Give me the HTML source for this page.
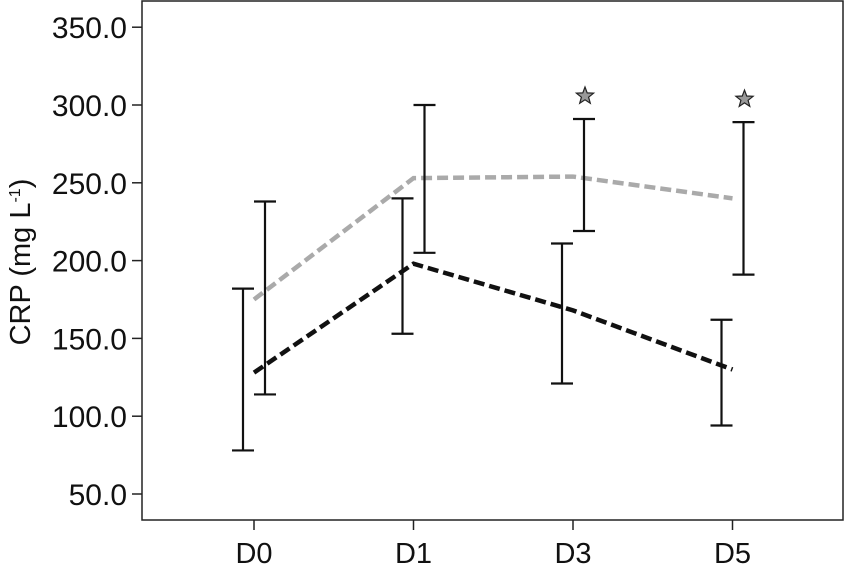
<!DOCTYPE html>
<html><head><meta charset="utf-8"><style>
html,body{margin:0;padding:0;background:#fff;width:845px;height:568px;overflow:hidden}
svg text{font-family:"Liberation Sans",sans-serif;fill:#111}
</style></head><body>
<svg id="chart" width="845" height="568" viewBox="0 0 845 568" xmlns="http://www.w3.org/2000/svg">
<rect x="142" y="1" width="701" height="519" fill="none" stroke="#222" stroke-width="1.5"/>
<text transform="translate(30,262) rotate(-90)" text-anchor="middle" font-size="29">CRP (mg L<tspan dy="-10" font-size="16">-1</tspan><tspan dy="10">)</tspan></text>
<g id="axes"></g><g id="marks"></g>
</svg>
<script>
const categories = ["D0","D1","D3","D5"];
const yTicks = [50,100,150,200,250,300,350];
const grayMean = [175,253,254,240];
const grayLow = [114,205,219,191];
const grayHigh = [238,300,291,289];
const blackMean = [128,198,168,130];
const blackLow = [78,153,121,94];
const blackHigh = [182,240,211,162];
const starCats = ["D3","D5"];

const ns="http://www.w3.org/2000/svg";
function y(v){return 494-(v-50)*1.556;}
function x(i){return 254+i*159.5;}
function mk(tag,attrs,parent){const e=document.createElementNS(ns,tag);for(const k in attrs)e.setAttribute(k,attrs[k]);parent.appendChild(e);return e;}
const axes=document.getElementById('axes'), marks=document.getElementById('marks');
yTicks.forEach(t=>{
  const l=mk('line',{x1:132,x2:142,y1:y(t),y2:y(t),stroke:'#222','stroke-width':1.5},axes);
  
  
  const tx=mk('text',{x:127,y:y(t)+11,'text-anchor':'end','font-size':30},axes);
  tx.textContent=t.toFixed(1);
  
  
});
categories.forEach((c,i)=>{
  const l=mk('line',{x1:x(i),x2:x(i),y1:520,y2:530,stroke:'#222','stroke-width':1.5},axes);
  
  
  const tx=mk('text',{x:x(i),y:563,'text-anchor':'middle','font-size':29},axes);
  tx.textContent=c;
  
  
});
function series(mean,lo,hi,color,off,name){
  const pts=mean.map((v,i)=>x(i)+','+y(v)).join(' ');
  const pl=mk('polyline',{points:pts,fill:'none',stroke:color,'stroke-width':4.5,'stroke-dasharray':'11,5'},marks);
  
  
  mean.forEach((v,i)=>{
    const cx=x(i)+off;
    const g=mk('g',{stroke:'#111','stroke-width':2.2},marks);
    
    
    mk('line',{x1:cx,x2:cx,y1:y(hi[i]),y2:y(lo[i])},g);
    mk('line',{x1:cx-11,x2:cx+11,y1:y(hi[i]),y2:y(hi[i])},g);
    mk('line',{x1:cx-11,x2:cx+11,y1:y(lo[i]),y2:y(lo[i])},g);
  });
}
series(grayMean,grayLow,grayHigh,'#aaa',11,'group-gray');
series(blackMean,blackLow,blackHigh,'#111',-11,'group-black');
starCats.forEach(c=>{
  const i=categories.indexOf(c);
  const cx=x(i)+12, cy=y(grayHigh[i])-23;
  let p=[];
  for(let k=0;k<10;k++){const r=k%2?3.8:9;const a=-Math.PI/2+k*Math.PI/5;p.push((cx+r*Math.cos(a)).toFixed(1)+','+(cy+r*Math.sin(a)).toFixed(1));}
  const s=mk('polygon',{points:p.join(' '),fill:'#999',stroke:'#222','stroke-width':1.2},marks);
  
  
});
</script>
</body></html>
